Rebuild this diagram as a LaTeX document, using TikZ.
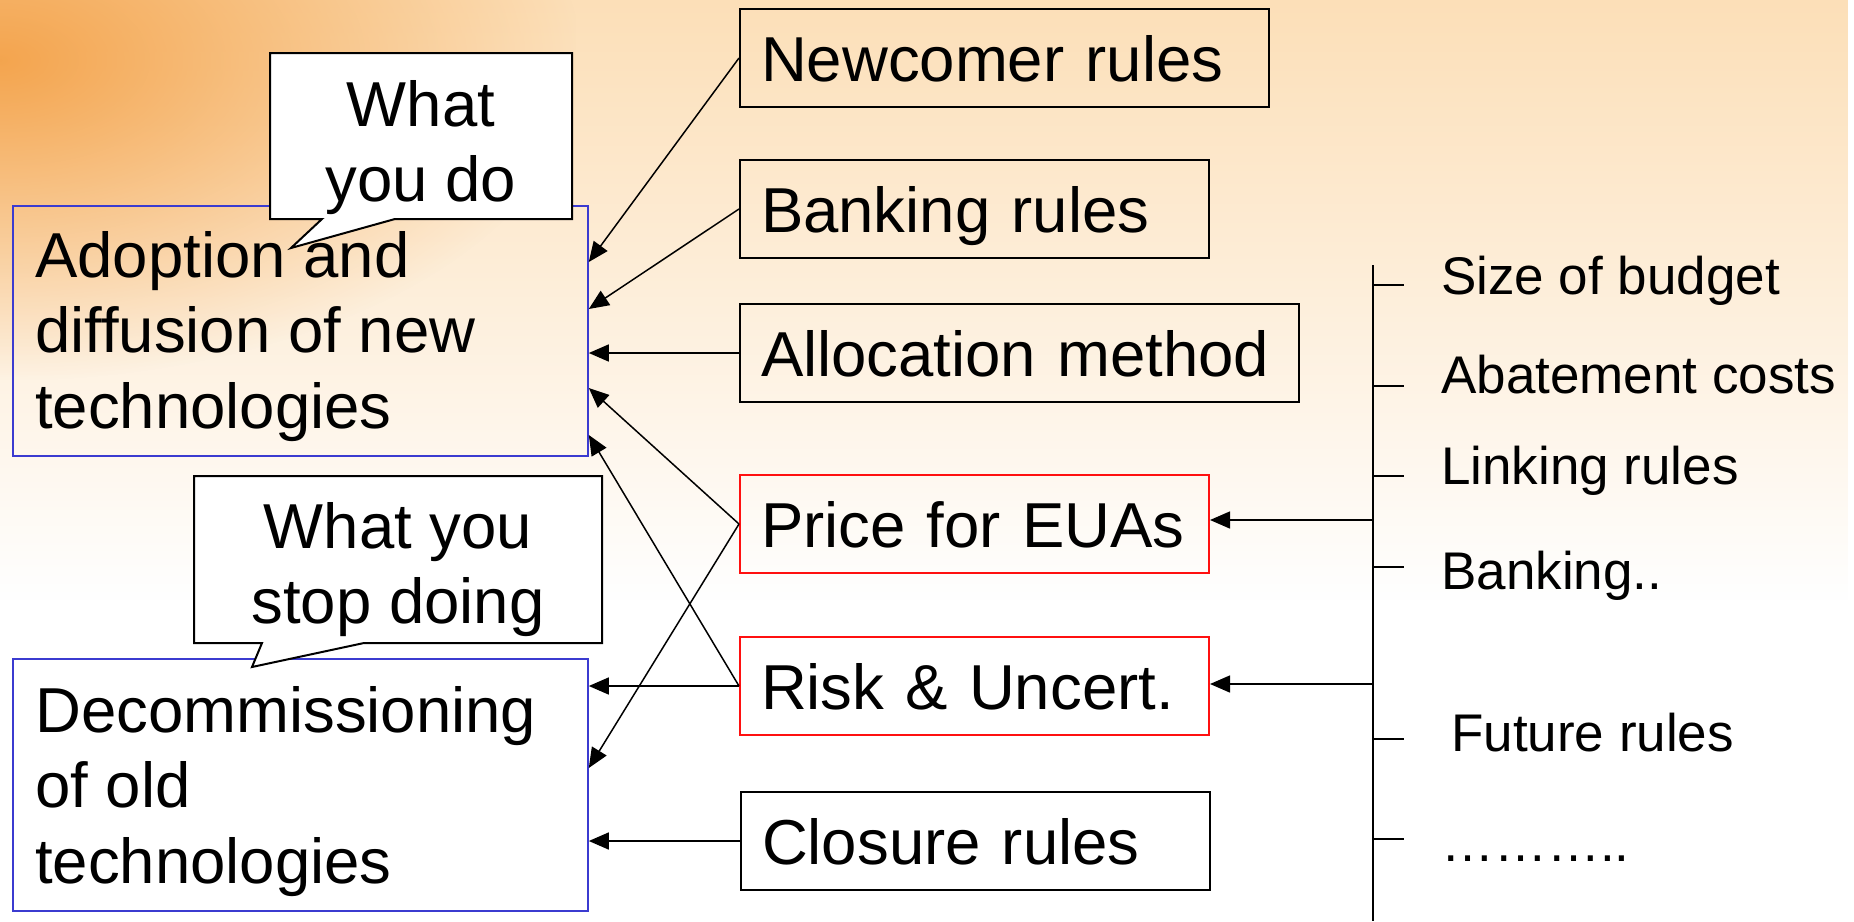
\documentclass[tikz,border=0pt]{standalone}
\usepackage{fontspec}
\setmainfont{Liberation Sans}
\usetikzlibrary{arrows.meta,calc,fadings}
\definecolor{peach}{HTML}{FCDAAC}
\definecolor{glowc}{HTML}{F39E42}
\definecolor{bblue}{HTML}{3B3BD0}
\definecolor{rred}{HTML}{FF1010}
\tikzfading[name=fadedown, top color=transparent!0, bottom color=transparent!100]
\tikzfading[name=glowfade, inner color=transparent!10, outer color=transparent!100]
\begin{document}
\begin{tikzpicture}[x=1pt,y=-1pt,
  big/.style={font=\fontsize{63.5}{75.5}\selectfont},
  small/.style={font=\fontsize{53}{63}\selectfont},
  rbox/.style={draw=black, line width=2pt, anchor=north west, minimum height=98pt,
    inner xsep=21pt, inner ysep=0pt, align=left, text height=46pt, text depth=0pt, big},
  redbox/.style={rbox, draw=rred},
  bluebox/.style={draw=bblue, line width=1.8pt, anchor=north west, inner sep=0pt},
  callout/.style={draw=black, fill=white, line width=2pt, line join=miter},
  arr/.style={line width=1.5pt, -{Triangle[length=20pt,width=17pt]}},
  tick/.style={line width=1.5pt},
  label/.style={small, anchor=base west, inner sep=0pt},
  stack/.style={big, inner sep=0pt}
]
\useasboundingbox (0,0) rectangle (1854,921);
% background
\begin{scope}
  \clip (0,0) rectangle (1854,921);
  \fill[white] (0,0) rectangle (1854,921);
  \fill[peach, path fading=fadedown] (0,-100) rectangle (1854,600);
  \fill[glowc, path fading=glowfade] (-580,-260) rectangle (580,380);
\end{scope}

% left boxes
\node[bluebox, minimum width=575pt, minimum height=250pt] (adopt) at (12,205) {};
\node[bluebox, minimum width=575pt, minimum height=252pt] (decom) at (12,658) {};

% callouts
\draw[callout] (270,53) -- (572,53) -- (572,219) -- (395,219) -- (291,248) -- (322,219) -- (270,219) -- cycle;
\draw[callout] (194,476) -- (602,476) -- (602,643) -- (364,643) -- (252,667) -- (262,643) -- (194,643) -- cycle;

\node[stack, anchor=base west] (adopttext) at (35,277)
  {\begin{tabular}[t]{@{}l@{}}Adoption and\\diffusion of new\\technologies\end{tabular}};
\node[stack, anchor=base west] (decomtext) at (35,732)
  {\begin{tabular}[t]{@{}l@{}}Decommissioning\\of old\\technologies\end{tabular}};
\node[stack, anchor=base] (c1text) at (421,126)
  {\begin{tabular}[t]{@{}c@{}}What\\you do\end{tabular}};
\node[stack, anchor=base] (c2text) at (398,548)
  {\begin{tabular}[t]{@{}c@{}}What you\\stop doing\end{tabular}};

% middle boxes
\node[rbox, text width=487pt] (new) at (739,8) {Newcomer rules};
\node[rbox, text width=427pt] (bank) at (739,159) {Banking rules};
\node[rbox, text width=517pt] (alloc) at (739,303) {Allocation method};
\node[redbox, text width=427pt] (price) at (739,474) {Price for EUAs};
\node[redbox, text width=427pt] (risk) at (739,636) {Risk \& Uncert.};
\node[rbox, text width=427pt] (closure) at (740,791) {Closure rules};

% arrows to left boxes
\draw[arr] (new.west) -- ($(adopt.north east)+(0,57)$);
\draw[arr] (bank.west) -- ($(adopt.north east)+(0,104)$);
\draw[arr] (alloc.west) -- (alloc.west -| adopt.east);
\draw[arr] (price.west) -- ($(adopt.north east)+(0,183)$);
\draw[arr] (risk.west) -- ($(adopt.north east)+(0,230)$);
\draw[arr] (risk.west) -- (risk.west -| decom.east);
\draw[arr] (price.west) -- ($(decom.north east)+(0,110)$);
\draw[arr] (closure.west) -- (closure.west -| decom.east);

% right side
\coordinate (vtop) at (1373,265);
\coordinate (vbot) at (1373,921);
\draw[tick] (vtop) -- (vbot);
\foreach \y/\n in {285/t1,386/t2,476/t3,567/t4,739/t5,839/t6}{
  \coordinate (\n) at (1373,\y);
  \draw[tick] (\n) -- ++(31,0);
}
\coordinate (pa) at (1373,520);
\coordinate (ra) at (1373,684);
\draw[arr] (pa) -- (pa -| price.east);
\draw[arr] (ra) -- (ra -| risk.east);

\node[label] (l1) at (1441,294) {Size of budget};
\node[label] (l2) at (1441,393) {Abatement costs};
\node[label] (l3) at (1441,484) {Linking rules};
\node[label] (l4) at (1441,589) {Banking..};
\node[label] (l5) at (1451,751) {Future rules};
\node[label] (l6) at (1441,861) {………..};
\end{tikzpicture}
\end{document}
